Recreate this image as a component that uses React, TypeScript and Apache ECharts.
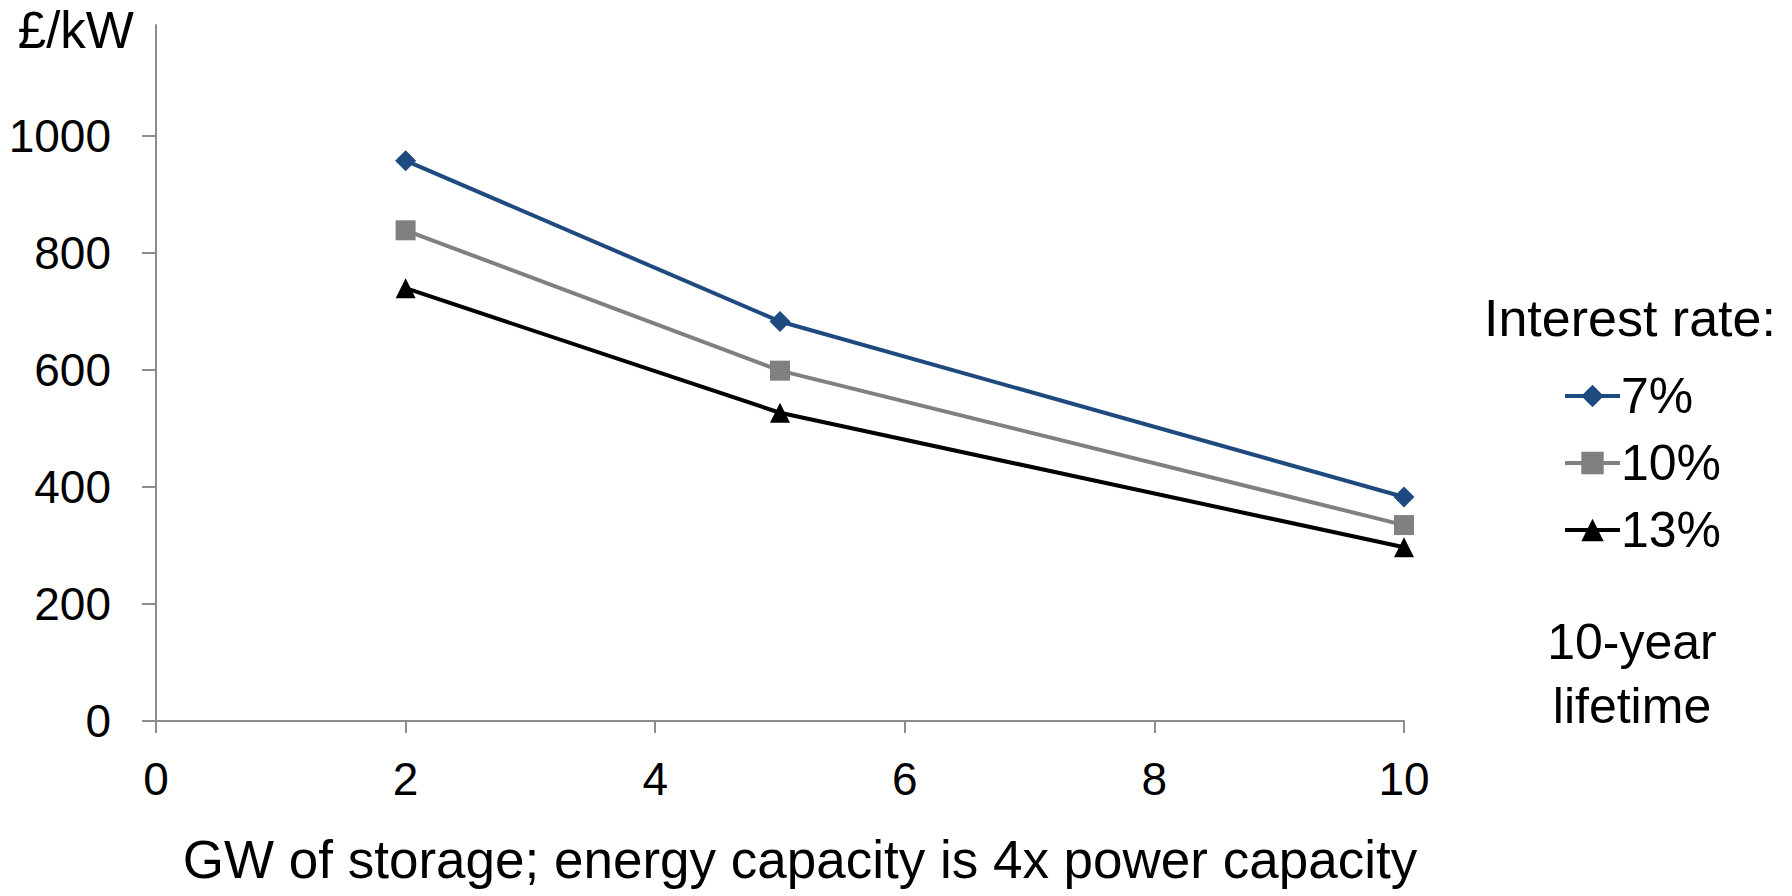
import React, { useEffect, useRef } from "react";
import * as echarts from "echarts";

const xValues = [2, 5, 10];
const seriesNames = ["7%", "10%", "13%"];
const rate7 = [958, 683, 383];
const rate10 = [839, 599, 335];
const rate13 = [740, 527, 297];
const yTicks = [0, 200, 400, 600, 800, 1000];
const xTicks = [0, 2, 4, 6, 8, 10];

const FONT = "'Liberation Sans', Arial, sans-serif";
const AXIS_COLOR = "#8c8c8c";

export default function App() {
  const ref = useRef<HTMLDivElement>(null);
  useEffect(() => {
    if (!ref.current) return;
    const chart = echarts.init(ref.current, undefined, { renderer: "svg" });
    const mk = (vals: number[]) => xValues.map((x, i) => [x, vals[i]]);
    const seriesDefs = [
      { name: seriesNames[0], data: rate7, color: "#1f4a7f", symbol: "diamond", size: 21 },
      { name: seriesNames[1], data: rate10, color: "#808080", symbol: "rect", size: 20 },
      { name: seriesNames[2], data: rate13, color: "#000000", symbol: "triangle", size: 20 },
    ];
    chart.setOption({
      animation: false,
      backgroundColor: "#ffffff",
      textStyle: { fontFamily: FONT, color: "#000" },
      grid: {
        left: 156,
        top: 25,
        right: 388,
        bottom: 175,
        containLabel: false,
        outerBoundsMode: "none",
      },
      xAxis: {
        type: "value",
        min: 0,
        max: 10,
        interval: 2,
        name: "GW of storage; energy capacity is 4x power capacity",
        nameLocation: "middle",
        nameGap: 112,
        nameTextStyle: { fontSize: 53, color: "#000", fontFamily: FONT, padding: [0, 0, 0, 40] },
        axisLine: { lineStyle: { color: AXIS_COLOR, width: 2 } },
        axisTick: { length: 12, lineStyle: { color: AXIS_COLOR, width: 2 }, customValues: xTicks },
        axisLabel: { fontSize: 46, color: "#000", margin: 35, fontFamily: FONT, customValues: xTicks },
        splitLine: { show: false },
      },
      yAxis: {
        type: "value",
        min: 0,
        max: 1190,
        interval: 200,
        name: "£/kW",
        nameLocation: "end",
        nameGap: -5,
        nameTextStyle: {
          fontSize: 51,
          color: "#000",
          fontFamily: FONT,
          align: "right",
          verticalAlign: "middle",
          padding: [0, 22, 0, 0],
        },
        axisLine: { show: true, lineStyle: { color: AXIS_COLOR, width: 2 } },
        axisTick: {
          show: true,
          inside: false,
          length: 14,
          lineStyle: { color: AXIS_COLOR, width: 2 },
          customValues: yTicks,
        },
        axisLabel: {
          fontSize: 46,
          color: "#000",
          margin: 45,
          fontFamily: FONT,
          customValues: yTicks,
          formatter: (v: number) => String(v),
        },
        splitLine: { show: false },
      },
      legend: {
        orient: "vertical",
        left: 1558,
        top: 366,
        itemWidth: 55,
        itemHeight: 28,
        itemGap: 17,
        lineStyle: { width: 4 },
        textStyle: { fontSize: 50, color: "#000", fontFamily: FONT, padding: [0, 0, 0, -4] },
        data: seriesNames,
      },
      graphic: [
        {
          type: "text",
          left: 1484,
          top: 292,
          style: { text: "Interest rate:", fontSize: 52, fill: "#000", fontFamily: FONT },
        },
        {
          type: "text",
          x: 1632,
          y: 674,
          style: {
            text: "10-year\nlifetime",
            fontSize: 50,
            lineHeight: 64,
            fill: "#000",
            fontFamily: FONT,
            align: "center",
            verticalAlign: "middle",
          },
        },
      ],
      series: seriesDefs.map((s) => ({
        type: "line",
        name: s.name,
        data: mk(s.data),
        symbol: s.symbol,
        symbolSize: s.size,
        showSymbol: true,
        lineStyle: { color: s.color, width: 4 },
        itemStyle: { color: s.color },
        emphasis: { disabled: true },
      })),
    });
    return () => chart.dispose();
  }, []);
  return (
    <div
      ref={ref}
      style={{ position: "fixed", left: 0, top: 0, width: 1792, height: 896, background: "#fff" }}
    />
  );
}
